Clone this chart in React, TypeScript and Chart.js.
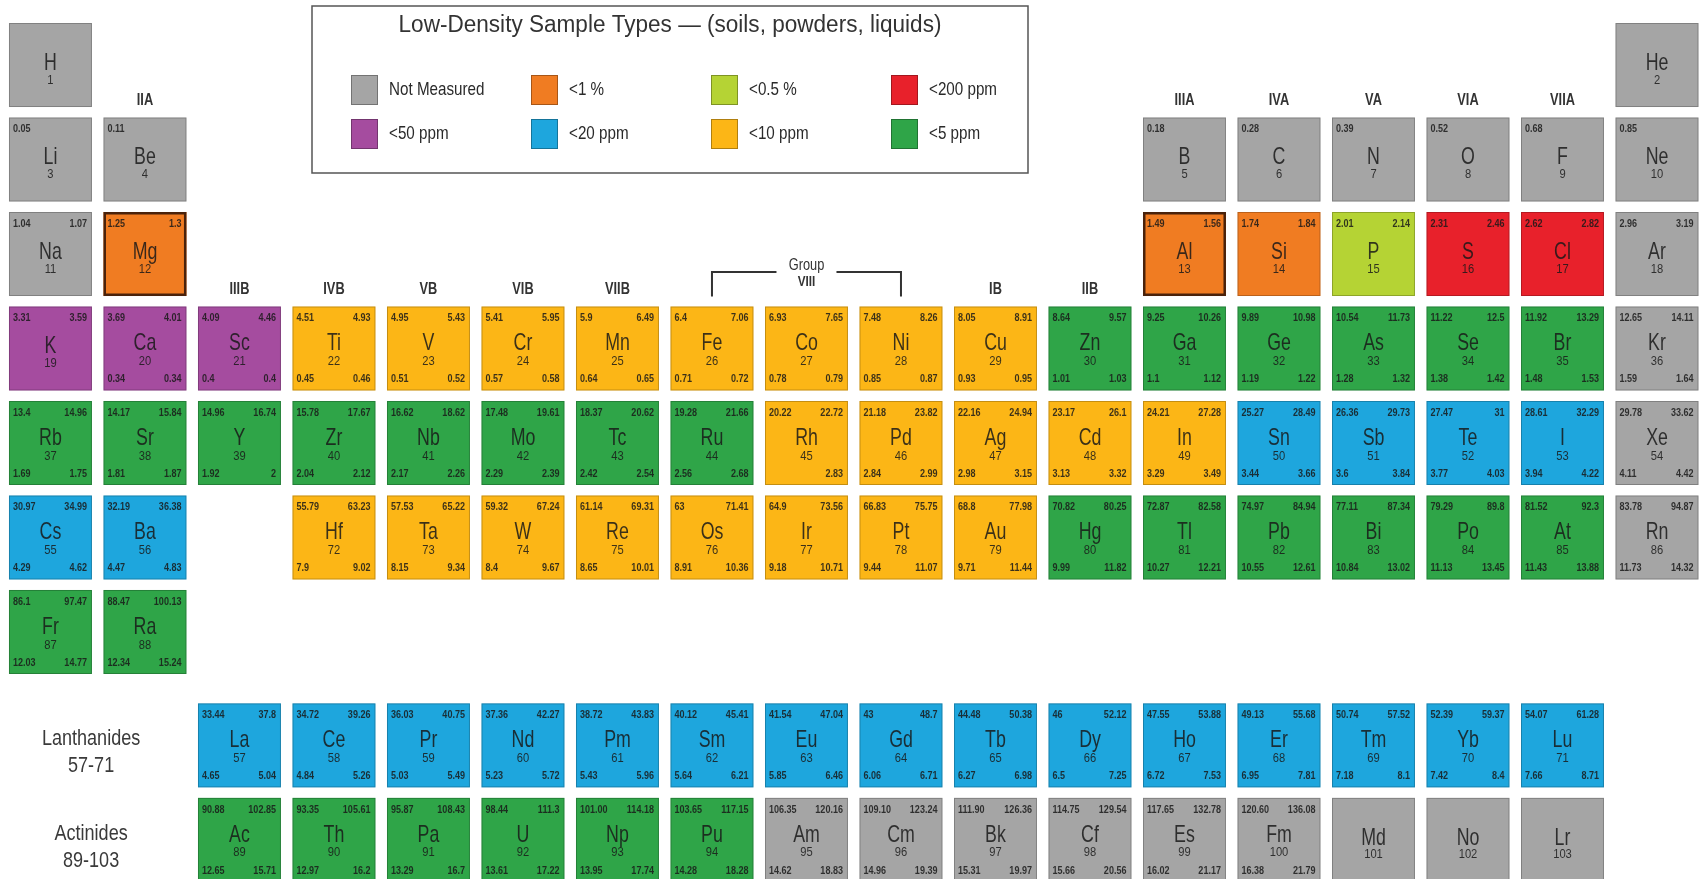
import React, { useEffect, useRef } from 'react';
import { Chart, registerables } from 'chart.js';

Chart.register(...registerables);

// ---------------- data ----------------
const SYMBOLS = [
  'H', 'He', 'Li', 'Be', 'B', 'C', 'N', 'O', 'F', 'Ne',
  'Na', 'Mg', 'Al', 'Si', 'P', 'S', 'Cl', 'Ar',
  'K', 'Ca', 'Sc', 'Ti', 'V', 'Cr', 'Mn', 'Fe', 'Co', 'Ni', 'Cu', 'Zn', 'Ga', 'Ge', 'As', 'Se', 'Br', 'Kr',
  'Rb', 'Sr', 'Y', 'Zr', 'Nb', 'Mo', 'Tc', 'Ru', 'Rh', 'Pd', 'Ag', 'Cd', 'In', 'Sn', 'Sb', 'Te', 'I', 'Xe',
  'Cs', 'Ba', 'La', 'Ce', 'Pr', 'Nd', 'Pm', 'Sm', 'Eu', 'Gd', 'Tb', 'Dy', 'Ho', 'Er', 'Tm', 'Yb', 'Lu',
  'Hf', 'Ta', 'W', 'Re', 'Os', 'Ir', 'Pt', 'Au', 'Hg', 'Tl', 'Pb', 'Bi', 'Po', 'At', 'Rn',
  'Fr', 'Ra', 'Ac', 'Th', 'Pa', 'U', 'Np', 'Pu', 'Am', 'Cm', 'Bk', 'Cf', 'Es', 'Fm', 'Md', 'No', 'Lr',
];

// table column (group) of each element, Z = 1..103
const GROUP_COLUMN = [
  1, 18, 1, 2, 13, 14, 15, 16, 17, 18,
  1, 2, 13, 14, 15, 16, 17, 18,
  1, 2, 3, 4, 5, 6, 7, 8, 9, 10, 11, 12, 13, 14, 15, 16, 17, 18,
  1, 2, 3, 4, 5, 6, 7, 8, 9, 10, 11, 12, 13, 14, 15, 16, 17, 18,
  1, 2, 3, 4, 5, 6, 7, 8, 9, 10, 11, 12, 13, 14, 15, 16, 17,
  4, 5, 6, 7, 8, 9, 10, 11, 12, 13, 14, 15, 16, 17, 18,
  1, 2, 3, 4, 5, 6, 7, 8, 9, 10, 11, 12, 13, 14, 15, 16, 17,
];

// table row: 1..7 periods, 8 = lanthanide series, 9 = actinide series
const TABLE_ROW = [
  1, 1, 2, 2, 2, 2, 2, 2, 2, 2,
  3, 3, 3, 3, 3, 3, 3, 3,
  4, 4, 4, 4, 4, 4, 4, 4, 4, 4, 4, 4, 4, 4, 4, 4, 4, 4,
  5, 5, 5, 5, 5, 5, 5, 5, 5, 5, 5, 5, 5, 5, 5, 5, 5, 5,
  6, 6, 8, 8, 8, 8, 8, 8, 8, 8, 8, 8, 8, 8, 8, 8, 8,
  6, 6, 6, 6, 6, 6, 6, 6, 6, 6, 6, 6, 6, 6, 6,
  7, 7, 9, 9, 9, 9, 9, 9, 9, 9, 9, 9, 9, 9, 9, 9, 9,
];

// detection-limit class: index into LEGEND_LABELS
const CATEGORY_INDEX = [
  0, 0, 0, 0, 0, 0, 0, 0, 0, 0,
  0, 1, 1, 1, 2, 3, 3, 0,
  4, 4, 4, 6, 6, 6, 6, 6, 6, 6, 6, 7, 7, 7, 7, 7, 7, 0,
  7, 7, 7, 7, 7, 7, 7, 7, 6, 6, 6, 6, 6, 5, 5, 5, 5, 0,
  5, 5, 5, 5, 5, 5, 5, 5, 5, 5, 5, 5, 5, 5, 5, 5, 5,
  6, 6, 6, 6, 6, 6, 6, 6, 7, 7, 7, 7, 7, 7, 0,
  7, 7, 7, 7, 7, 7, 7, 7, 0, 0, 0, 0, 0, 0, 0, 0, 0,
];

// line energies (keV) printed in the cell corners
const K_ALPHA = [
  null, null, '0.05', '0.11', '0.18', '0.28', '0.39', '0.52', '0.68', '0.85',
  '1.04', '1.25', '1.49', '1.74', '2.01', '2.31', '2.62', '2.96',
  '3.31', '3.69', '4.09', '4.51', '4.95', '5.41', '5.9', '6.4', '6.93', '7.48', '8.05', '8.64', '9.25', '9.89', '10.54', '11.22', '11.92', '12.65',
  '13.4', '14.17', '14.96', '15.78', '16.62', '17.48', '18.37', '19.28', '20.22', '21.18', '22.16', '23.17', '24.21', '25.27', '26.36', '27.47', '28.61', '29.78',
  '30.97', '32.19', '33.44', '34.72', '36.03', '37.36', '38.72', '40.12', '41.54', '43', '44.48', '46', '47.55', '49.13', '50.74', '52.39', '54.07',
  '55.79', '57.53', '59.32', '61.14', '63', '64.9', '66.83', '68.8', '70.82', '72.87', '74.97', '77.11', '79.29', '81.52', '83.78',
  '86.1', '88.47', '90.88', '93.35', '95.87', '98.44', '101.00', '103.65', '106.35', '109.10', '111.90', '114.75', '117.65', '120.60', null, null, null,
];
const K_BETA = [
  null, null, null, null, null, null, null, null, null, null,
  '1.07', '1.3', '1.56', '1.84', '2.14', '2.46', '2.82', '3.19',
  '3.59', '4.01', '4.46', '4.93', '5.43', '5.95', '6.49', '7.06', '7.65', '8.26', '8.91', '9.57', '10.26', '10.98', '11.73', '12.5', '13.29', '14.11',
  '14.96', '15.84', '16.74', '17.67', '18.62', '19.61', '20.62', '21.66', '22.72', '23.82', '24.94', '26.1', '27.28', '28.49', '29.73', '31', '32.29', '33.62',
  '34.99', '36.38', '37.8', '39.26', '40.75', '42.27', '43.83', '45.41', '47.04', '48.7', '50.38', '52.12', '53.88', '55.68', '57.52', '59.37', '61.28',
  '63.23', '65.22', '67.24', '69.31', '71.41', '73.56', '75.75', '77.98', '80.25', '82.58', '84.94', '87.34', '89.8', '92.3', '94.87',
  '97.47', '100.13', '102.85', '105.61', '108.43', '111.3', '114.18', '117.15', '120.16', '123.24', '126.36', '129.54', '132.78', '136.08', null, null, null,
];
const L_ALPHA = [
  null, null, null, null, null, null, null, null, null, null,
  null, null, null, null, null, null, null, null,
  null, '0.34', '0.4', '0.45', '0.51', '0.57', '0.64', '0.71', '0.78', '0.85', '0.93', '1.01', '1.1', '1.19', '1.28', '1.38', '1.48', '1.59',
  '1.69', '1.81', '1.92', '2.04', '2.17', '2.29', '2.42', '2.56', null, '2.84', '2.98', '3.13', '3.29', '3.44', '3.6', '3.77', '3.94', '4.11',
  '4.29', '4.47', '4.65', '4.84', '5.03', '5.23', '5.43', '5.64', '5.85', '6.06', '6.27', '6.5', '6.72', '6.95', '7.18', '7.42', '7.66',
  '7.9', '8.15', '8.4', '8.65', '8.91', '9.18', '9.44', '9.71', '9.99', '10.27', '10.55', '10.84', '11.13', '11.43', '11.73',
  '12.03', '12.34', '12.65', '12.97', '13.29', '13.61', '13.95', '14.28', '14.62', '14.96', '15.31', '15.66', '16.02', '16.38', null, null, null,
];
const L_BETA = [
  null, null, null, null, null, null, null, null, null, null,
  null, null, null, null, null, null, null, null,
  null, '0.34', '0.4', '0.46', '0.52', '0.58', '0.65', '0.72', '0.79', '0.87', '0.95', '1.03', '1.12', '1.22', '1.32', '1.42', '1.53', '1.64',
  '1.75', '1.87', '2', '2.12', '2.26', '2.39', '2.54', '2.68', '2.83', '2.99', '3.15', '3.32', '3.49', '3.66', '3.84', '4.03', '4.22', '4.42',
  '4.62', '4.83', '5.04', '5.26', '5.49', '5.72', '5.96', '6.21', '6.46', '6.71', '6.98', '7.25', '7.53', '7.81', '8.1', '8.4', '8.71',
  '9.02', '9.34', '9.67', '10.01', '10.36', '10.71', '11.07', '11.44', '11.82', '12.21', '12.61', '13.02', '13.45', '13.88', '14.32',
  '14.77', '15.24', '15.71', '16.2', '16.7', '17.22', '17.74', '18.28', '18.83', '19.39', '19.97', '20.56', '21.17', '21.79', null, null, null,
];

const LEGEND_TITLE = 'Low-Density Sample Types \u2014 (soils, powders, liquids)';
const LEGEND_LABELS = ['Not Measured', '<1 %', '<0.5 %', '<200 ppm', '<50 ppm', '<20 ppm', '<10 ppm', '<5 ppm'];
const CATEGORY_COLORS = ['#a5a5a5', '#f07c22', '#b5d334', '#e8212b', '#a54c9f', '#1ea6dd', '#fcb616', '#2fa548'];

const GROUP_LABELS = ['IIA', 'IIIA', 'IVA', 'VA', 'VIA', 'VIIA', 'IIIB', 'IVB', 'VB', 'VIB', 'VIIB', 'IB', 'IIB'];
const GROUP_LABEL_COLUMNS = [2, 13, 14, 15, 16, 17, 3, 4, 5, 6, 7, 11, 12];
const GROUP_LABEL_ROWS = [2, 2, 2, 2, 2, 2, 4, 4, 4, 4, 4, 4, 4];
const GROUP_VIII_TEXT = ['Group', 'VIII'];
const GROUP_VIII_COLUMNS = [8, 10];

const SERIES_NAMES = ['Lanthanides', 'Actinides'];
const SERIES_RANGES = ['57-71', '89-103'];
const SERIES_ROWS = [8, 9];

const EMPHASIZED = ['Mg', 'Al'];

// ---------------- styling ----------------
const FONT = "'Liberation Sans', Arial, Helvetica, sans-serif";
const F_BLOCK_SHIFT = 0.2;
const CELL_W_FRAC = 0.878;
const CELL_H_FRAC = 0.889;

function buildDatasets() {
  return CATEGORY_COLORS.map((color, ci) => {
    const data: any[] = [];
    for (let i = 0; i < SYMBOLS.length; i++) {
      if (CATEGORY_INDEX[i] !== ci) continue;
      const row = TABLE_ROW[i];
      data.push({ x: GROUP_COLUMN[i], y: row >= 8 ? row + F_BLOCK_SHIFT : row, z: i + 1 });
    }
    return {
      label: LEGEND_LABELS[ci],
      data,
      backgroundColor: color,
      borderColor: color,
      pointRadius: 0,
      pointHoverRadius: 0,
    };
  });
}

// condensed text: draw with a horizontal squeeze (Helvetica Condensed look)
function text(ctx: CanvasRenderingContext2D, s: string, x: number, y: number, font: string, align: CanvasTextAlign, squeeze: number) {
  ctx.save();
  ctx.font = font;
  ctx.textAlign = align;
  ctx.textBaseline = 'middle';
  ctx.translate(x, y);
  ctx.scale(squeeze, 1);
  ctx.fillText(s, 0, 0);
  ctx.restore();
}

const tablePlugin = {
  id: 'periodicTable',
  afterDatasetsDraw(chart: any) {
    const ctx: CanvasRenderingContext2D = chart.ctx;
    const xs = chart.scales.x;
    const ys = chart.scales.y;
    const w = (xs.getPixelForValue(2) - xs.getPixelForValue(1)) * CELL_W_FRAC;
    const h = (ys.getPixelForValue(2) - ys.getPixelForValue(1)) * CELL_H_FRAC;
    ctx.save();

    chart.data.datasets.forEach((ds: any, di: number) => {
      const meta = chart.getDatasetMeta(di);
      meta.data.forEach((pt: any, k: number) => {
        const raw = ds.data[k];
        const i = raw.z - 1;
        const cx = pt.x;
        const cy = pt.y;
        const left = cx - w / 2;
        const top = cy - h / 2;
        ctx.fillStyle = ds.backgroundColor;
        ctx.fillRect(left, top, w, h);
        if (EMPHASIZED.includes(SYMBOLS[i])) {
          ctx.strokeStyle = '#4a220b';
          ctx.lineWidth = 2.5;
          ctx.strokeRect(left + 1.25, top + 1.25, w - 2.5, h - 2.5);
        } else {
          ctx.strokeStyle = 'rgba(0,0,0,0.22)';
          ctx.lineWidth = 1;
          ctx.strokeRect(left + 0.5, top + 0.5, w - 1, h - 1);
        }
        const hasL = !!(L_ALPHA[i] || L_BETA[i]);
        ctx.fillStyle = 'rgba(25,25,25,0.85)';
        const nf = `bold 10.5px ${FONT}`;
        if (K_ALPHA[i]) text(ctx, K_ALPHA[i] as string, left + 4, top + 12, nf, 'left', 0.86);
        if (K_BETA[i]) text(ctx, K_BETA[i] as string, left + w - 5, top + 12, nf, 'right', 0.86);
        if (L_ALPHA[i]) text(ctx, L_ALPHA[i] as string, left + 4, top + h - 11, nf, 'left', 0.86);
        if (L_BETA[i]) text(ctx, L_BETA[i] as string, left + w - 5, top + h - 11, nf, 'right', 0.86);
        text(ctx, SYMBOLS[i], cx, top + (hasL ? 37 : 40), `24px ${FONT}`, 'center', 0.74);
        text(ctx, String(raw.z), cx, top + (hasL ? 55 : 57), `13px ${FONT}`, 'center', 0.86);
      });
    });

    // group labels
    ctx.fillStyle = '#333';
    GROUP_LABELS.forEach((lab, k) => {
      const x = xs.getPixelForValue(GROUP_LABEL_COLUMNS[k]);
      const rowTop = ys.getPixelForValue(GROUP_LABEL_ROWS[k]) - h / 2;
      text(ctx, lab, x, rowTop - 16.5, `bold 16px ${FONT}`, 'center', 0.8);
    });

    // group VIII bracket
    const xa = xs.getPixelForValue(GROUP_VIII_COLUMNS[0]);
    const xb = xs.getPixelForValue(GROUP_VIII_COLUMNS[1]);
    const xm = (xa + xb) / 2;
    const top4 = ys.getPixelForValue(4) - h / 2;
    const lineY = top4 - 34.5;
    ctx.strokeStyle = '#333';
    ctx.lineWidth = 2;
    ctx.beginPath();
    ctx.moveTo(xa, top4 - 10);
    ctx.lineTo(xa, lineY);
    ctx.lineTo(xm - 30, lineY);
    ctx.moveTo(xm + 30, lineY);
    ctx.lineTo(xb, lineY);
    ctx.lineTo(xb, top4 - 10);
    ctx.stroke();
    text(ctx, GROUP_VIII_TEXT[0], xm, top4 - 41, `16px ${FONT}`, 'center', 0.8);
    text(ctx, GROUP_VIII_TEXT[1], xm, top4 - 25, `bold 15px ${FONT}`, 'center', 0.78);

    // series labels
    ctx.fillStyle = '#3a3a3a';
    SERIES_NAMES.forEach((name, k) => {
      const x = xs.getPixelForValue(1.43);
      const y = ys.getPixelForValue(SERIES_ROWS[k] + F_BLOCK_SHIFT);
      text(ctx, name, x, y - 6, `22px ${FONT}`, 'center', 0.82);
      text(ctx, SERIES_RANGES[k], x, y + 21, `22px ${FONT}`, 'center', 0.82);
    });

    // legend box
    const L = 312, T = 6, R = 1028, B = 173;
    ctx.strokeStyle = '#555';
    ctx.lineWidth = 1.5;
    ctx.strokeRect(L, T, R - L, B - T);
    ctx.fillStyle = '#333';
    text(ctx, LEGEND_TITLE, (L + R) / 2, 26, `23.5px ${FONT}`, 'center', 0.96);
    LEGEND_LABELS.forEach((lab, k) => {
      const col = k % 4;
      const row = Math.floor(k / 4);
      const sx = 351 + col * 180;
      const sy = row === 0 ? 90 : 134;
      ctx.fillStyle = CATEGORY_COLORS[k];
      ctx.fillRect(sx, sy - 15, 27, 30);
      ctx.strokeStyle = 'rgba(0,0,0,0.3)';
      ctx.lineWidth = 1;
      ctx.strokeRect(sx + 0.5, sy - 14.5, 26, 29);
      ctx.fillStyle = '#2a2a2a';
      text(ctx, lab, sx + 38, sy, `19px ${FONT}`, 'left', 0.8);
    });

    ctx.restore();
  },
};

export default function App() {
  const ref = useRef<HTMLCanvasElement>(null);
  useEffect(() => {
    document.body.style.margin = '0';
    const canvas = ref.current;
    if (!canvas) return;
    const chart = new Chart(canvas, {
      type: 'scatter',
      data: { datasets: buildDatasets() as any },
      options: {
        animation: false,
        responsive: false,
        devicePixelRatio: 1,
        layout: { padding: 0 },
        events: [],
        plugins: { legend: { display: false }, tooltip: { enabled: false } },
        scales: {
          x: { type: 'linear', min: 0.466, max: 18.508, display: false },
          y: { type: 'linear', min: 0.312, max: 9.614, reverse: true, display: false },
        },
      },
      plugins: [tablePlugin],
    });
    return () => chart.destroy();
  }, []);
  return (
    <div style={{ position: 'fixed', left: 0, top: 0, width: 1705, height: 879, background: '#fff' }}>
      <canvas ref={ref} width={1705} height={879} style={{ display: 'block', width: 1705, height: 879 }} />
    </div>
  );
}
